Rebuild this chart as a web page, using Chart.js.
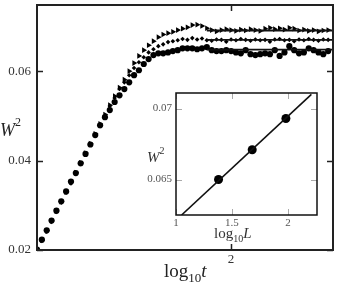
<!DOCTYPE html>
<html>
<head>
<meta charset="utf-8">
<script src="https://cdn.jsdelivr.net/npm/chart.js@4/dist/chart.umd.min.js"></script>
<style>
  html, body { margin: 0; padding: 0; background: #fff; }
  #wrap { position: relative; width: 339px; height: 286px; }
  #main { position: absolute; left: 0; top: 0; }
  #inset { position: absolute; left: 136px; top: 88px; }
</style>
</head>
<body>
<div id="wrap">
  <canvas id="main" width="339" height="286"></canvas>
  <canvas id="inset" width="190" height="165"></canvas>
</div>
<script>
/* ===================== DATOS ===================== */
// log10 t (eje común de las tres series)
const logT = [
  0.00, 0.05, 0.10, 0.15, 0.20, 0.25, 0.30, 0.35, 0.40, 0.45,
  0.50, 0.55, 0.60, 0.65, 0.70, 0.75, 0.80, 0.85, 0.90, 0.95,
  1.00, 1.05, 1.10, 1.15, 1.20, 1.25, 1.30, 1.35, 1.40, 1.45,
  1.50, 1.55, 1.60, 1.65, 1.70, 1.75, 1.80, 1.85, 1.90, 1.95,
  2.00, 2.05, 2.10, 2.15, 2.20, 2.25, 2.30, 2.35, 2.40, 2.45,
  2.50, 2.55, 2.60, 2.65, 2.70, 2.75, 2.80, 2.85, 2.90, 2.95,
  3.00,
];

// W^2, L = 96 (triángulos)
const w2L96 = [
  0.0200, 0.0222, 0.0243, 0.0265, 0.0287, 0.0308, 0.0330, 0.0352, 0.0373, 0.0395,
  0.0417, 0.0438, 0.0460, 0.0482, 0.0503, 0.0524, 0.0544, 0.0563, 0.0581, 0.0600,
  0.0618, 0.0634, 0.0647, 0.0658, 0.0667, 0.0676, 0.0682, 0.0685, 0.0688, 0.0692,
  0.0695, 0.0698, 0.0703, 0.0704, 0.0701, 0.0696, 0.0692, 0.0689, 0.0692, 0.0694,
  0.0692, 0.0690, 0.0693, 0.0691, 0.0694, 0.0692, 0.0690, 0.0695, 0.0697, 0.0694,
  0.0696, 0.0693, 0.0697, 0.0695, 0.0691, 0.0693, 0.0690, 0.0692, 0.0689, 0.0691,
  0.0692,
];

// W^2, L = 48 (puntos pequeños)
const w2L48 = [
  0.0199, 0.0220, 0.0241, 0.0263, 0.0285, 0.0306, 0.0328, 0.0349, 0.0371, 0.0392,
  0.0414, 0.0435, 0.0456, 0.0477, 0.0498, 0.0522, 0.0540, 0.0560, 0.0575, 0.0591,
  0.0607, 0.0620, 0.0631, 0.0642, 0.0649, 0.0656, 0.0660, 0.0665, 0.0667, 0.0669,
  0.0672, 0.0670, 0.0674, 0.0671, 0.0673, 0.0669, 0.0668, 0.0671, 0.0670, 0.0666,
  0.0671, 0.0669, 0.0672, 0.0670, 0.0668, 0.0671, 0.0669, 0.0670, 0.0666, 0.0671,
  0.0672, 0.0669, 0.0670, 0.0667, 0.0671, 0.0669, 0.0672, 0.0670, 0.0668, 0.0671,
  0.0670,
];

// W^2, L = 24 (círculos)
const w2L24 = [
  0.0201, 0.0223, 0.0244, 0.0266, 0.0288, 0.0309, 0.0331, 0.0353, 0.0372, 0.0394,
  0.0415, 0.0436, 0.0457, 0.0479, 0.0497, 0.0513, 0.0531, 0.0546, 0.0560, 0.0575,
  0.0591, 0.0602, 0.0616, 0.0627, 0.0636, 0.0640, 0.0640, 0.0642, 0.0645, 0.0647,
  0.0651, 0.0651, 0.0651, 0.0649, 0.0651, 0.0654, 0.0647, 0.0645, 0.0645, 0.0647,
  0.0645, 0.0642, 0.0640, 0.0647, 0.0638, 0.0636, 0.0638, 0.0640, 0.0638, 0.0647,
  0.0634, 0.0642, 0.0656, 0.0647, 0.0640, 0.0642, 0.0651, 0.0647, 0.0642, 0.0638,
  0.0645,
];

// niveles de saturación (líneas horizontales)
const satX = [1.75, 3.05];
const satLevels = [0.0691, 0.0670, 0.0648];

// recuadro: W^2 de saturación vs log10 L
const logL = [1.380, 1.681, 1.982];
const w2Sat = [0.0650, 0.0671, 0.0693];
const fitX = [1.05, 2.21];
const fitY = [0.0625, 0.0710];

const mainXTicks = [2];
const mainYTicks = [0.02, 0.04, 0.06];
const insetXTicks = [1, 1.5, 2];
const insetYTicks = [0.065, 0.07];

/* ===================== PLUGINS ===================== */
const marcas = {
  id: "marcas",
  afterDraw(chart, args, o) {
    const { ctx, chartArea: a, scales } = chart;
    ctx.save();
    ctx.strokeStyle = o.tickColor;
    ctx.lineWidth = o.tickWidth;
    ctx.beginPath();
    scales.x.ticks.forEach((t) => {
      const px = Math.round(scales.x.getPixelForValue(t.value)) + 0.5;
      ctx.moveTo(px, a.bottom);
      ctx.lineTo(px, a.bottom - o.len);
      ctx.moveTo(px, a.top);
      ctx.lineTo(px, a.top + o.len);
    });
    scales.y.ticks.forEach((t) => {
      const py = Math.round(scales.y.getPixelForValue(t.value)) + 0.5;
      ctx.moveTo(a.left, py);
      ctx.lineTo(a.left + o.len, py);
      ctx.moveTo(a.right, py);
      ctx.lineTo(a.right - o.len, py);
    });
    ctx.stroke();
    ctx.strokeStyle = o.boxColor;
    ctx.lineWidth = o.boxWidth;
    ctx.strokeRect(a.left, a.top, a.width, a.height);
    ctx.restore();
  },
};

// texto con sub/superíndices: [texto, tamaño, italic, dy]
function textoCompuesto(ctx, x, y, partes, color) {
  ctx.save();
  ctx.fillStyle = color;
  ctx.textBaseline = "alphabetic";
  partes.forEach(([txt, size, italic, dy]) => {
    ctx.font = `${italic ? "italic " : ""}${size}px 'Liberation Serif'`;
    ctx.fillText(txt, x, y + dy);
    x += ctx.measureText(txt).width;
  });
  ctx.restore();
}

const titulos = {
  id: "titulos",
  afterDraw(chart, args, o) {
    o.items.forEach((it) => textoCompuesto(chart.ctx, it.x, it.y, it.parts, o.color));
  },
};

const fijarTicks = (vals) => (scale) => {
  scale.ticks = vals.map((v) => ({ value: v }));
};

// sin relleno extra por las etiquetas de los extremos
const ajuste = (prop, size) => (s) => {
  s[prop] = size;
  s.paddingTop = 0;
  s.paddingBottom = 0;
  s.paddingLeft = 0;
  s.paddingRight = 0;
};

const fmt = (v) => String(+Number(v).toFixed(3));

/* ===================== GRÁFICO PRINCIPAL ===================== */
const puntos = (ys) => logT.map((x, i) => ({ x: x, y: ys[i] }));
const linea = (lvl) => satX.map((x) => ({ x: x, y: lvl }));

new Chart(document.getElementById("main"), {
  type: "scatter",
  data: {
    datasets: [
      ...satLevels.map((lvl) => ({
        type: "line",
        data: linea(lvl),
        borderColor: "#111",
        borderWidth: 1.8,
        pointRadius: 0,
      })),
      {
        data: puntos(w2L24),
        pointStyle: "circle",
        pointRadius: 3.1,
        backgroundColor: "#000",
        borderWidth: 0,
      },
      {
        data: puntos(w2L48),
        pointStyle: "rectRot",
        pointRadius: 2.3,
        backgroundColor: "#000",
        borderWidth: 0,
      },
      {
        data: puntos(w2L96),
        pointStyle: "triangle",
        rotation: 90,
        pointRadius: 3.3,
        backgroundColor: "#000",
        borderWidth: 0,
      },
    ],
  },
  plugins: [marcas, titulos],
  options: {
    responsive: false,
    animation: false,
    layout: { autoPadding: false, padding: { top: 5, right: 6, left: 0, bottom: 0 } },
    scales: {
      x: {
        type: "linear",
        min: 0,
        max: 3.05,
        afterBuildTicks: fijarTicks(mainXTicks),
        afterFit: ajuste("height", 36),
        grid: { drawOnChartArea: false, drawTicks: false },
        border: { display: false },
        ticks: {
          padding: 2,
          color: "#333",
          font: { family: "Liberation Serif", size: 13 },
          callback: fmt,
        },
      },
      y: {
        min: 0.02,
        max: 0.0748,
        afterBuildTicks: fijarTicks(mainYTicks),
        afterFit: ajuste("width", 37),
        grid: { drawOnChartArea: false, drawTicks: false },
        border: { display: false },
        ticks: {
          padding: 6,
          color: "#333",
          font: { family: "Liberation Serif", size: 13 },
          callback: fmt,
        },
      },
    },
    plugins: {
      legend: { display: false },
      tooltip: { enabled: false },
      marcas: { tickColor: "#222", tickWidth: 1.5, len: 6, boxColor: "#222", boxWidth: 2 },
      titulos: {
        color: "#222",
        items: [
          { x: 0, y: 136, parts: [["W", 18, true, 0], ["2", 12, false, -10]] },
          { x: 164, y: 277, parts: [["log", 19, false, 0], ["10", 13, false, 5], ["t", 19, true, 0]] },
        ],
      },
    },
  },
});

/* ===================== RECUADRO ===================== */
new Chart(document.getElementById("inset"), {
  type: "scatter",
  data: {
    datasets: [
      {
        type: "line",
        data: fitX.map((x, i) => ({ x: x, y: fitY[i] })),
        borderColor: "#111",
        borderWidth: 1.6,
        pointRadius: 0,
      },
      {
        data: logL.map((x, i) => ({ x: x, y: w2Sat[i] })),
        pointRadius: 4.5,
        backgroundColor: "#000",
        borderWidth: 0,
      },
    ],
  },
  plugins: [
    {
      id: "fondo",
      beforeDraw(chart) {
        const { ctx, chartArea: a } = chart;
        ctx.save();
        ctx.fillStyle = "#fff";
        ctx.fillRect(a.left, a.top, a.width, a.height);
        ctx.restore();
      },
    },
    marcas,
    titulos,
  ],
  options: {
    responsive: false,
    animation: false,
    layout: { autoPadding: false, padding: { top: 5, right: 9, left: 0, bottom: 0 } },
    scales: {
      x: {
        type: "linear",
        min: 1,
        max: 2.26,
        afterBuildTicks: fijarTicks(insetXTicks),
        afterFit: ajuste("height", 38),
        grid: { drawOnChartArea: false, drawTicks: false },
        border: { display: false },
        ticks: {
          padding: 2,
          color: "#555",
          font: { family: "Liberation Serif", size: 11 },
          callback: fmt,
        },
      },
      y: {
        min: 0.0625,
        max: 0.0711,
        afterBuildTicks: fijarTicks(insetYTicks),
        afterFit: ajuste("width", 40),
        grid: { drawOnChartArea: false, drawTicks: false },
        border: { display: false },
        ticks: {
          padding: 4,
          color: "#555",
          font: { family: "Liberation Serif", size: 11 },
          callback: fmt,
        },
      },
    },
    plugins: {
      legend: { display: false },
      tooltip: { enabled: false },
      marcas: { tickColor: "#aaa", tickWidth: 1, len: 6, boxColor: "#111", boxWidth: 1.5 },
      titulos: {
        color: "#333",
        items: [
          { x: 11, y: 74, parts: [["W", 15, true, 0], ["2", 10, false, -8]] },
          { x: 78, y: 150, parts: [["log", 15, false, 0], ["10", 10, false, 4], ["L", 15, true, 0]] },
        ],
      },
    },
  },
});
</script>
</body>
</html>
